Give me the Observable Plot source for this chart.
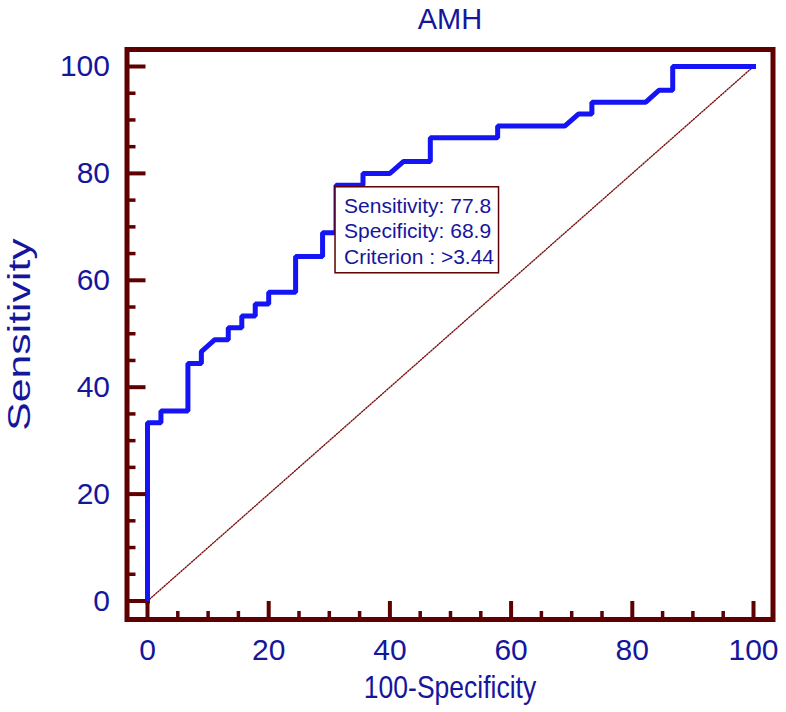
<!DOCTYPE html>
<html>
<head>
<meta charset="utf-8">
<script src="https://cdn.jsdelivr.net/npm/d3@7"></script>
<script src="https://cdn.jsdelivr.net/npm/@observablehq/plot@0.6"></script>
<style>
  html, body { margin: 0; padding: 0; background: #ffffff; }
  #chart svg { display: block; }
</style>
</head>
<body>
<div id="chart"></div>
<script>
// ---- data ----
const title = "AMH";
const xLabel = "100-Specificity";
const yLabel = "Sensitivity";

// ROC curve vertices (100-Specificity, Sensitivity), in %
const fpr = [0, 0, 2.22, 2.22, 6.67, 6.67, 8.89, 8.89, 11.11, 13.33, 13.33, 15.56, 15.56, 17.78, 17.78, 20.0, 20.0, 24.44, 24.44, 28.89, 28.89, 31.11, 31.11, 35.56, 35.56, 40.0, 42.22, 46.67, 46.67, 57.78, 57.78, 68.89, 71.11, 73.33, 73.33, 82.22, 84.44, 86.67, 86.67, 100];
const tpr = [0, 33.33, 33.33, 35.56, 35.56, 44.44, 44.44, 46.67, 48.89, 48.89, 51.11, 51.11, 53.33, 53.33, 55.56, 55.56, 57.78, 57.78, 64.44, 64.44, 68.89, 68.89, 77.78, 77.78, 80.0, 80.0, 82.22, 82.22, 86.67, 86.67, 88.89, 88.89, 91.11, 91.11, 93.33, 93.33, 95.56, 95.56, 100, 100];

// reference diagonal
const diagX = [0, 100];
const diagY = [0, 100];

// ticks
const xTicks = [0, 20, 40, 60, 80, 100];
const yTicks = [0, 20, 40, 60, 80, 100];
const minorTicks = [5, 10, 15, 25, 30, 35, 45, 50, 55, 65, 70, 75, 85, 90, 95];

// optimal criterion
const critX = [31.11];
const critY = [77.78];
const critSensitivity = "77.8";
const critSpecificity = "68.9";
const critCriterion = ">3.44";

// ---- build ----
const roc = fpr.map((x, i) => ({x, y: tpr[i]}));
const diag = diagX.map((x, i) => ({x, y: diagY[i]}));
const crit = critX.map((x, i) => ({x, y: critY[i]}));
const critText = `Sensitivity: ${critSensitivity}\nSpecificity: ${critSpecificity}\nCriterion : ${critCriterion}`;

const navy = "#16169c";
const maroon = "#5e0000";
const blue = "#1414f4";
const font = "Liberation Sans, Arial, sans-serif";

const chart = Plot.plot({
  width: 786,
  height: 712,
  marginLeft: 126.5,
  marginRight: 13.5,
  marginTop: 49,
  marginBottom: 93,
  style: {fontFamily: font, background: "#ffffff"},
  x: {domain: [0, 100], insetLeft: 20.5, insetRight: 19.5},
  y: {domain: [0, 100], insetTop: 17, insetBottom: 18.5},
  marks: [
    Plot.line(diag, {x: "x", y: "y", stroke: "#7a1010", strokeWidth: 1.4, strokeDasharray: "1.2,1.6"}),
    Plot.line(roc, {x: "x", y: "y", stroke: blue, strokeWidth: 5, strokeLinejoin: "miter", strokeLinecap: "square"}),
    Plot.rect(crit, {x1: "x", x2: "x", y1: "y", y2: "y", insetLeft: -0.5, insetRight: -163, insetTop: 2, insetBottom: -88, fill: "#ffffff", stroke: maroon, strokeWidth: 1.5}),
    Plot.text(crit, {x: "x", y: "y", text: () => critText, dx: 8, dy: 9, textAnchor: "start", lineAnchor: "top", lineHeight: 1.23, fontSize: 21, fill: navy}),
    // minor ticks (inward)
    Plot.axisX(minorTicks, {tickSize: -8, tickFormat: () => "", label: null, stroke: maroon, strokeWidth: 3.5}),
    Plot.axisY(minorTicks, {tickSize: -9, tickFormat: () => "", label: null, stroke: maroon, strokeWidth: 3.5}),
    // major ticks (inward)
    Plot.axisX(xTicks, {tickSize: -18, tickFormat: () => "", label: null, stroke: maroon, strokeWidth: 4}),
    Plot.axisY(yTicks, {tickSize: -19, tickFormat: () => "", label: null, stroke: maroon, strokeWidth: 4}),
    // tick labels
    Plot.axisX(xTicks, {tickSize: 0, tickPadding: 19, label: null, fontSize: 30, fill: navy, tickFormat: d => String(d)}),
    Plot.axisY(yTicks, {tickSize: 0, tickPadding: 17, label: null, fontSize: 30, fill: navy, tickFormat: d => String(d)}),
    // axis titles and chart title
    Plot.text([xLabel], {frameAnchor: "bottom", dy: 69, textAnchor: "middle", lineAnchor: "middle", fontSize: 26.5, fill: navy}),
    Plot.text([yLabel], {frameAnchor: "left", dx: -107, rotate: -90, textAnchor: "middle", lineAnchor: "middle", fontSize: 31, fill: navy}),
    Plot.text([title], {frameAnchor: "top", dy: -30, textAnchor: "middle", lineAnchor: "middle", fontSize: 29, fill: navy}),
    Plot.frame({stroke: maroon, strokeWidth: 5})
  ]
});

// the reference's lettering is stretched: elongate the axis titles
function stretch(label, sx, sy) {
  d3.select(chart).selectAll("text")
    .filter(function () { return this.textContent === label; })
    .each(function () {
      const t = this.getAttribute("transform") || "";
      this.setAttribute("transform", `${t} scale(${sx},${sy})`.trim());
    });
}
stretch(yLabel, 1.38, 1);
stretch(xLabel, 1, 1.15);

document.getElementById("chart").appendChild(chart);
</script>
</body>
</html>
